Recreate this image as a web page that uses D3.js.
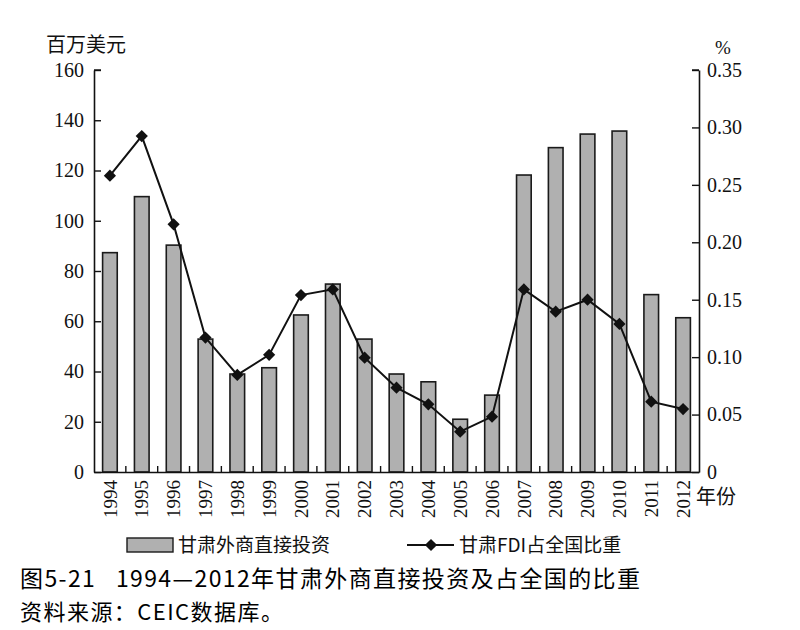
<!DOCTYPE html>
<html><head><meta charset="utf-8">
<script src="https://cdn.jsdelivr.net/npm/d3@7"></script>
<style>body{margin:0;background:#fff;}svg{display:block;}</style>
</head><body><svg id="c" width="800" height="630"></svg>
<script>
const years = ["1994","1995","1996","1997","1998","1999","2000","2001","2002","2003","2004","2005","2006","2007","2008","2009","2010","2011","2012"];
const fdi = [87.3,109.6,90.3,52.9,39.0,41.5,62.5,74.8,52.9,39.0,35.9,21.0,30.6,118.2,129.1,134.5,135.7,70.6,61.4];
const share = [0.258,0.2925,0.2156,0.117,0.0845,0.102,0.154,0.159,0.0995,0.0734,0.0589,0.0351,0.0482,0.159,0.1396,0.150,0.1289,0.0612,0.0548];
const leftTicks = [0,20,40,60,80,100,120,140,160];
const rightTicks = [0,0.05,0.10,0.15,0.20,0.25,0.30,0.35];
const rightTickLabels = ["0","0.05","0.10","0.15","0.20","0.25","0.30","0.35"];
const leftUnit = "百万美元", rightUnit = "%", xUnit = "年份";
const legendLabels = ["甘肃外商直接投资","甘肃FDI占全国比重"];
const captionLines = ["图5-21\u00a0\u00a0\u00a01994—2012年甘肃外商直接投资及占全国的比重","资料来源：CEIC数据库。"];

const svg = d3.select("#c");
const L = 94, R = 699, T = 70, B = 472;
const serif = "'Liberation Serif','Times New Roman',serif";
const cjk = "'Noto Sans CJK SC','Noto Sans',sans-serif";

const x = d3.scaleBand().domain(years).range([L, R]).paddingInner(0.54).paddingOuter(0.27);
const yL = d3.scaleLinear().domain([0,160]).range([B, T]);
const yR = d3.scaleLinear().domain([0,0.35]).range([B, T]);

// bars
svg.append("g").selectAll("rect").data(years).join("rect")
  .attr("x", d => x(d)).attr("width", x.bandwidth())
  .attr("y", (d,i) => yL(fdi[i])).attr("height", (d,i) => B - yL(fdi[i]))
  .attr("fill", "#b0b0b0").attr("stroke", "#1a1a1a").attr("stroke-width", 1.6);

// left axis
const gl = svg.append("g").attr("transform", `translate(${L},0)`)
  .call(d3.axisLeft(yL).tickValues(leftTicks).tickSize(7).tickSizeOuter(0).tickFormat(d3.format("d")));
gl.select(".domain").attr("stroke","#111").attr("stroke-width",1.6);
gl.selectAll(".tick line").attr("x2", 7).attr("stroke","#111").attr("stroke-width",1.4);
gl.selectAll(".tick text").attr("x",-10).attr("font-family",serif).attr("font-size",20).attr("fill","#111");

// right axis
const gr = svg.append("g").attr("transform", `translate(${R},0)`)
  .call(d3.axisRight(yR).tickValues(rightTicks).tickSize(7).tickSizeOuter(0).tickFormat((d,i) => rightTickLabels[i]));
gr.select(".domain").attr("stroke","#111").attr("stroke-width",1.6);
gr.selectAll(".tick line").attr("x2", -7).attr("stroke","#111").attr("stroke-width",1.4);
gr.selectAll(".tick text").attr("x",8).attr("font-family",serif).attr("font-size",20).attr("fill","#111");

// top end ticks
svg.append("line").attr("x1",L).attr("x2",L+7).attr("y1",T).attr("y2",T).attr("stroke","#111").attr("stroke-width",1.4);
svg.append("line").attr("x1",R).attr("x2",R-7).attr("y1",T).attr("y2",T).attr("stroke","#111").attr("stroke-width",1.4);

// x axis
const gx = svg.append("g").attr("transform", `translate(0,${B})`)
  .call(d3.axisBottom(x).tickSize(0).tickSizeOuter(0));
gx.select(".domain").attr("stroke","#111").attr("stroke-width",1.6);
gx.selectAll(".tick text")
  .attr("font-family",serif).attr("font-size",19).attr("fill","#111")
  .attr("text-anchor","end").attr("transform","rotate(-90)")
  .attr("x",-8).attr("y",0).attr("dy","0.35em");
// boundary ticks between categories
const step = x.step();
svg.append("g").selectAll("line").data(years.slice(1)).join("line")
  .attr("x1", d => x(d) - (step - x.bandwidth())/2).attr("x2", d => x(d) - (step - x.bandwidth())/2)
  .attr("y1", B).attr("y2", B-6).attr("stroke","#111").attr("stroke-width",1.4);

// line
const line = d3.line().x((d,i) => x(years[i]) + x.bandwidth()/2).y(d => yR(d));
svg.append("path").datum(share).attr("d", line).attr("fill","none").attr("stroke","#111").attr("stroke-width",2);
const diamond = d3.symbol().type(d3.symbolDiamond2).size(95);
svg.append("g").selectAll("path").data(share).join("path")
  .attr("d", diamond)
  .attr("transform", (d,i) => `translate(${x(years[i]) + x.bandwidth()/2},${yR(d)})`)
  .attr("fill","#111");

// unit labels
svg.append("text").attr("x",86).attr("y",52).attr("text-anchor","middle").attr("font-family",cjk).attr("font-size",20).attr("fill","#111").text(leftUnit);
svg.append("text").attr("x",723).attr("y",54).attr("text-anchor","middle").attr("font-family",serif).attr("font-size",19).attr("fill","#111").text(rightUnit);
svg.append("text").attr("x",696).attr("y",504).attr("font-family",cjk).attr("font-size",20).attr("fill","#111").text(xUnit);

// legend
svg.append("rect").attr("x",127).attr("y",538).attr("width",46).attr("height",14).attr("fill","#b0b0b0").attr("stroke","#1a1a1a").attr("stroke-width",1.4);
svg.append("text").attr("x",178).attr("y",552).attr("font-family",cjk).attr("font-size",19).attr("fill","#111").text(legendLabels[0]);
svg.append("line").attr("x1",407).attr("x2",454).attr("y1",545).attr("y2",545).attr("stroke","#111").attr("stroke-width",2);
svg.append("path").attr("d",diamond).attr("transform","translate(431,545)").attr("fill","#111");
svg.append("text").attr("x",459).attr("y",552).attr("font-family",cjk).attr("font-size",19).attr("fill","#111").text(legendLabels[1]);

// caption
svg.append("text").attr("x",20).attr("y",587).attr("font-family",cjk).attr("font-size",23).attr("font-weight",400)
  .attr("textLength",620).attr("lengthAdjust","spacing").attr("fill","#000").text(captionLines[0]);
svg.append("text").attr("x",20).attr("y",620).attr("font-family",cjk).attr("font-size",22).attr("font-weight",400)
  .attr("textLength",263).attr("lengthAdjust","spacing").attr("fill","#000").text(captionLines[1]);
</script></body></html>
